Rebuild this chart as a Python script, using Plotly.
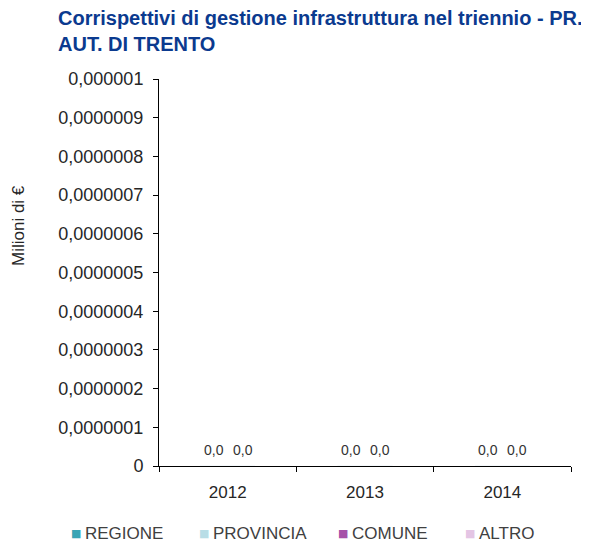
import plotly.graph_objects as go

# ==========================================================
# DATA
# ==========================================================

years = ["2012", "2013", "2014"]

series_names = ["REGIONE", "PROVINCIA", "COMUNE", "ALTRO"]

regione = [0, 0, 0]
provincia = [0, 0, 0]
comune = [0, 0, 0]
altro = [0, 0, 0]

colors = ["#3aa5b5", "#b8dde6", "#a552a9", "#e4c5e4"]

# only two value labels per year are visible in the original
label_series = [regione, altro]
label_shift = [-14, 15]

y_ticks = [0, 1e-7, 2e-7, 3e-7, 4e-7, 5e-7, 6e-7, 7e-7, 8e-7, 9e-7, 1e-6]

# ==========================================================
# LAYOUT (pixels of the 589x544 page)
# ==========================================================

# the page body adds an 8px margin, so the figure is 8px smaller
PAGE_OFF = 8
FIG_W = 589 - PAGE_OFF
FIG_H = 544 - PAGE_OFF

PLOT_L, PLOT_R, PLOT_T, PLOT_B = 159, 571, 79, 466
PLOT_W = PLOT_R - PLOT_L
PLOT_H = PLOT_B - PLOT_T


def px_x(x):
    return (x - PLOT_L) / PLOT_W


def px_y(y):
    return (PLOT_B - y) / PLOT_H


# legend entry starts (marker centre), legend row centre
legend_x = [76, 204, 343, 470]
legend_y = 533

# ==========================================================
# FIGURE
# ==========================================================

fig = go.Figure()

for name, vals, col in zip(series_names, [regione, provincia, comune, altro], colors):

    fig.add_trace(

        go.Bar(
            x=years,
            y=vals,
            name=name,
            marker=dict(color=col),
            showlegend=False
        )

    )

# value labels (category axis: use the category index)
for vals, shift in zip(label_series, label_shift):

    for i, v in enumerate(vals):

        fig.add_annotation(
            x=i,
            y=v,
            text=f"{v:.1f}".replace(".", ","),
            showarrow=False,
            xshift=shift,
            yshift=16,
            font=dict(size=14, color="#333333")
        )

# legend drawn as annotations so it does not push the margins
for name, col, lx in zip(series_names, colors, legend_x):

    fig.add_annotation(
        text="■",
        xref="paper",
        yref="paper",
        x=px_x(lx),
        y=px_y(legend_y),
        xanchor="center",
        yanchor="middle",
        showarrow=False,
        font=dict(size=11, color=col, family="DejaVu Sans")
    )

    fig.add_annotation(
        text=name,
        xref="paper",
        yref="paper",
        x=px_x(lx + 7),
        y=px_y(legend_y),
        xanchor="left",
        yanchor="middle",
        showarrow=False,
        font=dict(size=17, color="#404040")
    )

# title
fig.add_annotation(
    text="<b>Corrispettivi di gestione infrastruttura nel triennio - PR.<br>AUT. DI TRENTO</b>",
    xref="paper",
    yref="paper",
    x=px_x(56),
    y=px_y(5),
    xanchor="left",
    yanchor="top",
    align="left",
    showarrow=False,
    font=dict(size=20, color="#0b3a8f")
)

# y axis title
fig.add_annotation(
    text="Milioni di €",
    xref="paper",
    yref="paper",
    x=px_x(18),
    y=px_y(226),
    xanchor="center",
    yanchor="middle",
    textangle=-90,
    showarrow=False,
    font=dict(size=17, color="#262626")
)

fig.update_layout(

    width=FIG_W,

    height=FIG_H,

    paper_bgcolor="white",

    plot_bgcolor="white",

    separators=",.",

    barmode="group",

    bargap=0.6,

    bargroupgap=0,

    showlegend=False,

    font=dict(family="Liberation Sans, Arial, sans-serif", size=16, color="#262626"),

    margin=dict(l=PLOT_L - PAGE_OFF, r=589 - PLOT_R, t=PLOT_T - PAGE_OFF, b=544 - PLOT_B),

    xaxis=dict(
        type="category",
        categoryorder="array",
        categoryarray=years,
        range=[-0.5, len(years) - 0.5],
        automargin=False,
        showline=True,
        linecolor="#000000",
        linewidth=1,
        ticks="outside",
        tickson="boundaries",
        ticklen=5,
        ticklabelstandoff=11,
        tickcolor="#000000",
        tickfont=dict(size=17, color="#262626"),
        tickangle=0,
        showgrid=False,
        fixedrange=True
    ),

    yaxis=dict(
        automargin=False,
        range=[0, 1e-6],
        tickvals=y_ticks,
        tickformat=".7~f",
        showline=True,
        linecolor="#000000",
        linewidth=1,
        ticks="outside",
        ticklen=5,
        ticklabelstandoff=6,
        tickcolor="#000000",
        tickfont=dict(size=18, color="#262626"),
        showgrid=False,
        zeroline=False
    )

)

fig.write_html("out.html")
